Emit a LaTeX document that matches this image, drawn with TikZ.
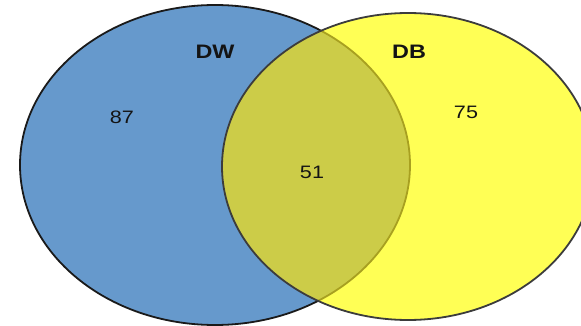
\documentclass[tikz,border=0pt]{standalone}
\usepackage{graphicx}
\usepackage{fontspec}
\setmainfont{Liberation Sans}
\definecolor{dwblue}{HTML}{6699CC}
\definecolor{dbyellow}{HTML}{FFFF55}
\definecolor{bothcol}{HTML}{CCCC48}
\definecolor{innerarc}{HTML}{A8A020}
\definecolor{lineA}{HTML}{1A1A1A}
\definecolor{lineB}{HTML}{3C3C3C}
\tikzset{
  setlabel/.style={font=\fontsize{19.5}{20}\selectfont\bfseries, text=black!92, inner sep=0pt},
  countlabel/.style={font=\fontsize{18}{19}\selectfont, text=black!92, inner sep=0pt},
  rim/.style={line width=1.8pt},
}
\begin{document}
\begin{tikzpicture}[x=1pt,y=-1pt]
\useasboundingbox (0,0) rectangle (581,326);
\begin{scope}
  \clip (0,0) rectangle (581,326);
  % set DW
  \fill[dwblue] (215,165) ellipse [x radius=195pt, y radius=160pt];
  \draw[rim, lineA] (215,165) ellipse [x radius=195pt, y radius=160pt];
  % set DB
  \fill[dbyellow] (408,166.5) ellipse [x radius=186pt, y radius=153.5pt];
  % intersection
  \begin{scope}
    \clip (215,165) ellipse [x radius=195pt, y radius=160pt];
    \fill[bothcol] (408,166.5) ellipse [x radius=186pt, y radius=153.5pt];
  \end{scope}
  % DW rim seen through DB
  \begin{scope}
    \clip (408,166.5) ellipse [x radius=186pt, y radius=153.5pt];
    \draw[rim, innerarc] (215,165) ellipse [x radius=195pt, y radius=160pt];
  \end{scope}
  \draw[rim, lineB] (408,166.5) ellipse [x radius=186pt, y radius=153.5pt];
\end{scope}
% labels
\node[setlabel] (dw) at (215,52) {\scalebox{1.2}[1]{DW}};
\node[setlabel] (db) at (409,52) {\scalebox{1.2}[1]{DB}};
\node[countlabel] (onlydw) at (122,117) {\scalebox{1.2}[1]{87}};
\node[countlabel] (both) at (312,172) {\scalebox{1.2}[1]{51}};
\node[countlabel] (onlydb) at (466,112) {\scalebox{1.2}[1]{75}};
\end{tikzpicture}
\end{document}
